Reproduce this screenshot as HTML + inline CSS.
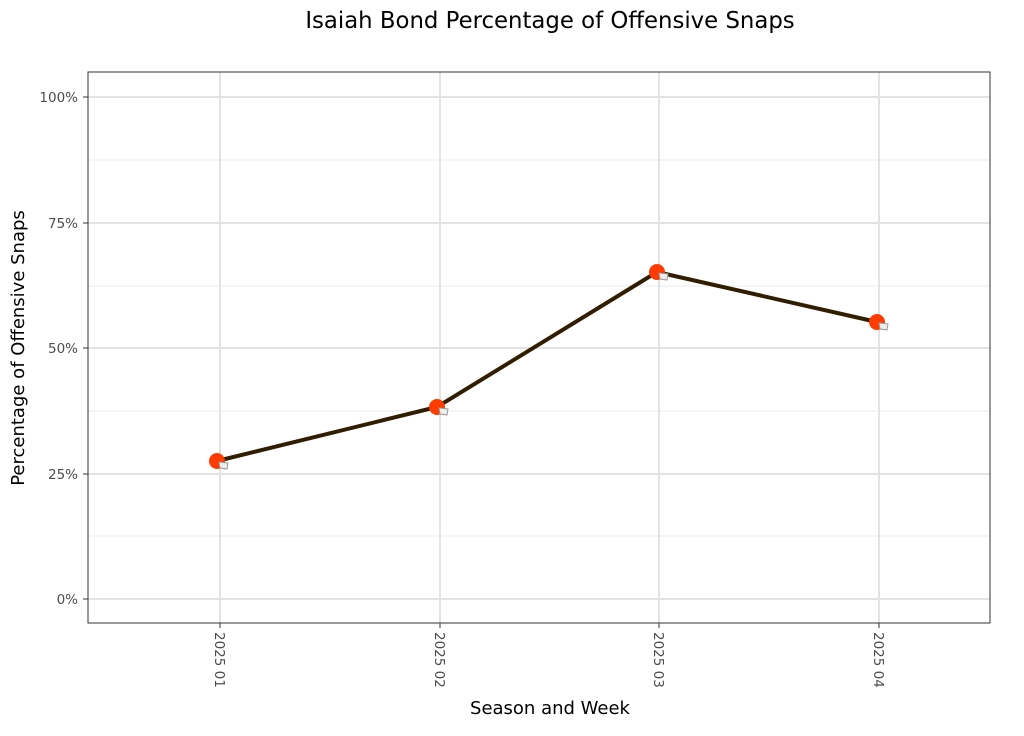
<!DOCTYPE html><html><head><style>body{margin:0;background:#fff}</style></head><body>
<svg width="1024" height="731" xmlns="http://www.w3.org/2000/svg" font-family="DejaVu Sans, Liberation Sans, sans-serif">
<rect width="1024" height="731" fill="#fff"/>
<text x="550" y="28" font-size="22.8" text-anchor="middle" fill="#000">Isaiah Bond Percentage of Offensive Snaps</text>
<g stroke="#ebebeb" stroke-width="1">
<line x1="88" x2="990" y1="536" y2="536"/><line x1="88" x2="990" y1="411" y2="411"/><line x1="88" x2="990" y1="286" y2="286"/><line x1="88" x2="990" y1="160" y2="160"/>
</g>
<g stroke="#e3e3e3" stroke-width="2">
<line x1="88" x2="990" y1="599" y2="599"/><line x1="88" x2="990" y1="474" y2="474"/><line x1="88" x2="990" y1="348" y2="348"/><line x1="88" x2="990" y1="223" y2="223"/><line x1="88" x2="990" y1="97" y2="97"/>
<line x1="220" x2="220" y1="72" y2="623"/><line x1="440" x2="440" y1="72" y2="623"/><line x1="659" x2="659" y1="72" y2="623"/><line x1="879" x2="879" y1="72" y2="623"/>
</g>
<rect x="88" y="72" width="902" height="551" fill="none" stroke="#333" stroke-width="1"/>
<g font-size="13.5" fill="#4d4d4d" text-anchor="end">
<text x="78" y="604">0%</text><text x="78" y="479">25%</text><text x="78" y="353">50%</text><text x="78" y="228">75%</text><text x="78" y="102">100%</text>
</g>
<g stroke="#333"><line x1="83" x2="88" y1="599" y2="599"/><line x1="83" x2="88" y1="474" y2="474"/><line x1="83" x2="88" y1="348" y2="348"/><line x1="83" x2="88" y1="223" y2="223"/><line x1="83" x2="88" y1="97" y2="97"/>
<line x1="220" x2="220" y1="623" y2="628"/><line x1="440" x2="440" y1="623" y2="628"/><line x1="659" x2="659" y1="623" y2="628"/><line x1="879" x2="879" y1="623" y2="628"/></g>
<g font-size="13.5" fill="#4d4d4d">
<text transform="translate(215,632) rotate(90)">2025 01</text>
<text transform="translate(435,632) rotate(90)">2025 02</text>
<text transform="translate(654,632) rotate(90)">2025 03</text>
<text transform="translate(874,632) rotate(90)">2025 04</text>
</g>
<text x="550" y="714" font-size="18" text-anchor="middle">Season and Week</text>
<text transform="translate(24,348) rotate(-90)" font-size="18" text-anchor="middle">Percentage of Offensive Snaps</text>
<polyline points="217,461 437,407 657,272 877,322" fill="none" stroke="#311d00" stroke-width="4"/>
<g>
<g transform="translate(217,461)"><circle r="8" fill="#ff3c00"/><path d="M2,1 L11,2 L10,8 L3,7Z" fill="#eee" stroke="#999" stroke-width="1"/></g>
<g transform="translate(437,407)"><circle r="8" fill="#ff3c00"/><path d="M2,1 L11,2 L10,8 L3,7Z" fill="#eee" stroke="#999" stroke-width="1"/></g>
<g transform="translate(657,272)"><circle r="8" fill="#ff3c00"/><path d="M2,1 L11,2 L10,8 L3,7Z" fill="#eee" stroke="#999" stroke-width="1"/></g>
<g transform="translate(877,322)"><circle r="8" fill="#ff3c00"/><path d="M2,1 L11,2 L10,8 L3,7Z" fill="#eee" stroke="#999" stroke-width="1"/></g>
</g>
</svg></body></html>
